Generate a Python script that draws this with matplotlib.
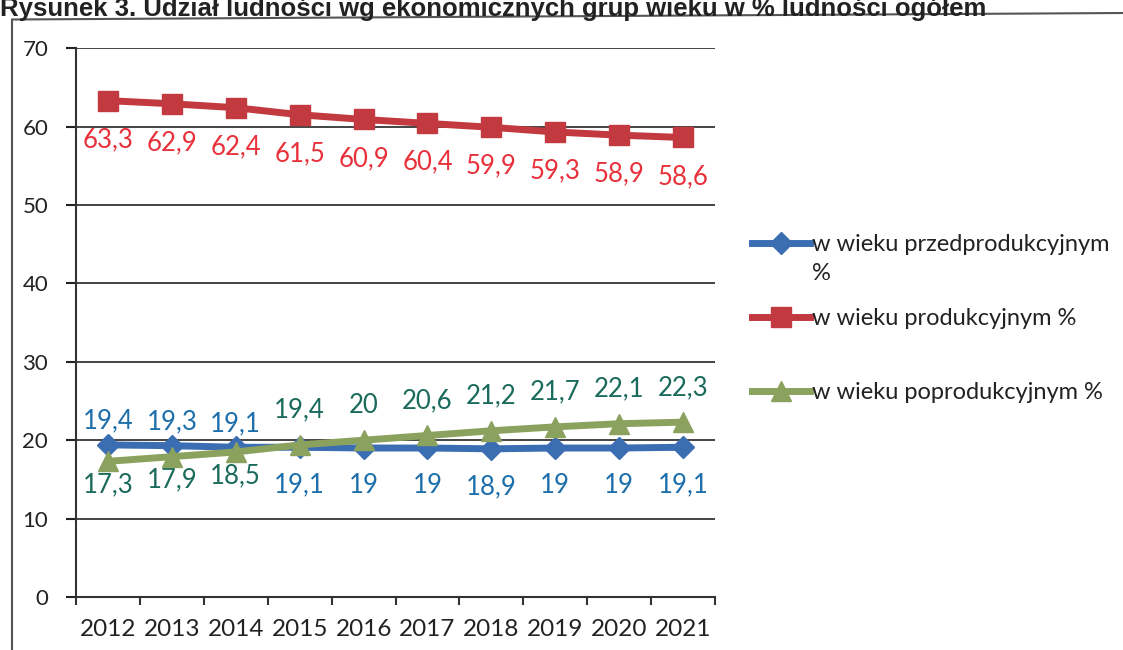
import matplotlib
matplotlib.use("Agg")
import matplotlib.pyplot as plt
from matplotlib.lines import Line2D

# data (Rysunek 3)
years = ["2012", "2013", "2014", "2015", "2016", "2017", "2018", "2019", "2020", "2021"]
przed = [19.4, 19.3, 19.1, 19.1, 19.0, 19.0, 18.9, 19.0, 19.0, 19.1]
prod = [63.3, 62.9, 62.4, 61.5, 60.9, 60.4, 59.9, 59.3, 58.9, 58.6]
popr = [17.3, 17.9, 18.5, 19.4, 20.0, 20.6, 21.2, 21.7, 22.1, 22.3]
# label side: +1 above the point, -1 below
przed_side = [1, 1, 1, -1, -1, -1, -1, -1, -1, -1]
prod_side = [-1] * 10
popr_side = [-1, -1, -1, 1, 1, 1, 1, 1, 1, 1]

names = ["w wieku przedprodukcyjnym", "w wieku produkcyjnym %", "w wieku poprodukcyjnym %"]

plt.rcParams['font.family'] = ['Lato', 'DejaVu Sans']

fig = plt.figure(figsize=(11.23, 6.5), dpi=100)
ax = fig.add_axes([0.0677, 0.0815, 0.569, 0.8445])

x = list(range(len(years)))
l1, = ax.plot(x, przed, color='#3b6db3', lw=5, marker='D', ms=11, zorder=4)
l2, = ax.plot(x, prod, color='#c2393f', lw=5, marker='s', ms=14, zorder=4)
l3, = ax.plot(x, popr, color='#8ba25f', lw=5, marker='^', ms=15, zorder=5)


def labels(vals, sides, color, up, down):
    for i, v in enumerate(vals):
        txt = ("%g" % v).replace(".", ",")
        off = up if sides[i] > 0 else -down
        ax.annotate(txt, (i, v), xytext=(0, off), textcoords='offset points',
                    ha='center', va='center', fontsize=18.5, color=color)


labels(przed, przed_side, '#1d6fab', 17, 27)
labels(prod, prod_side, '#e8313b', 0, 28)
labels(popr, popr_side, '#1b6b5c', 25, 17)

ax.set_xlim(-0.5, len(years) - 0.5)
ax.set_ylim(0, 70)
ax.set_yticks(range(0, 71, 10))
ax.set_xticks(x)
ax.set_xticklabels(years)
ax.set_xticks([i - 0.5 for i in range(len(years) + 1)], minor=True)
ax.tick_params(axis='x', which='major', length=0, pad=16, labelsize=17.5, colors='#222222')
ax.tick_params(axis='x', which='minor', length=6, width=1.5, direction='out', color='#333333')
ax.tick_params(axis='y', length=7, width=1.5, direction='out', pad=13, labelsize=16,
               colors='#222222')
ax.yaxis.grid(True, color='#444444', lw=1.4)
ax.set_axisbelow(True)
for s in ['top', 'right']:
    ax.spines[s].set_visible(False)
for s in ['left', 'bottom']:
    ax.spines[s].set_color('#333333')
    ax.spines[s].set_linewidth(1.5)

leg = ax.legend([l1, l2, l3], names, loc='upper left', bbox_to_anchor=(752 / 1123, 0.640),
                bbox_transform=fig.transFigure, borderpad=0, borderaxespad=0,
                frameon=False, fontsize=17, handlelength=2.45, handletextpad=0.1,
                labelspacing=2.25, labelcolor='#222222')
# wrapped second line of the first legend entry (drawn after the legend)
ax.annotate("%", xy=(0, 0), xycoords=leg.get_texts()[0], xytext=(0, -6),
            textcoords='offset points', ha='left', va='top', fontsize=17,
            color='#222222', zorder=10)

# scan frame and cut-off title
fig.add_artist(Line2D([0.011, 0.011], [0, 0.970], color='#555555', lw=1.5))
fig.add_artist(Line2D([0.011, 1.0], [0.970, 0.98], color='#555555', lw=1.5))
fig.text(0.0, 0.976, "Rysunek 3. Udział ludności wg ekonomicznych grup wieku w % ludności ogółem",
         fontsize=18.5, fontweight='bold', family='Liberation Sans', color='#222222',
         ha='left', va='baseline')

fig.savefig("out.png", dpi=100)
